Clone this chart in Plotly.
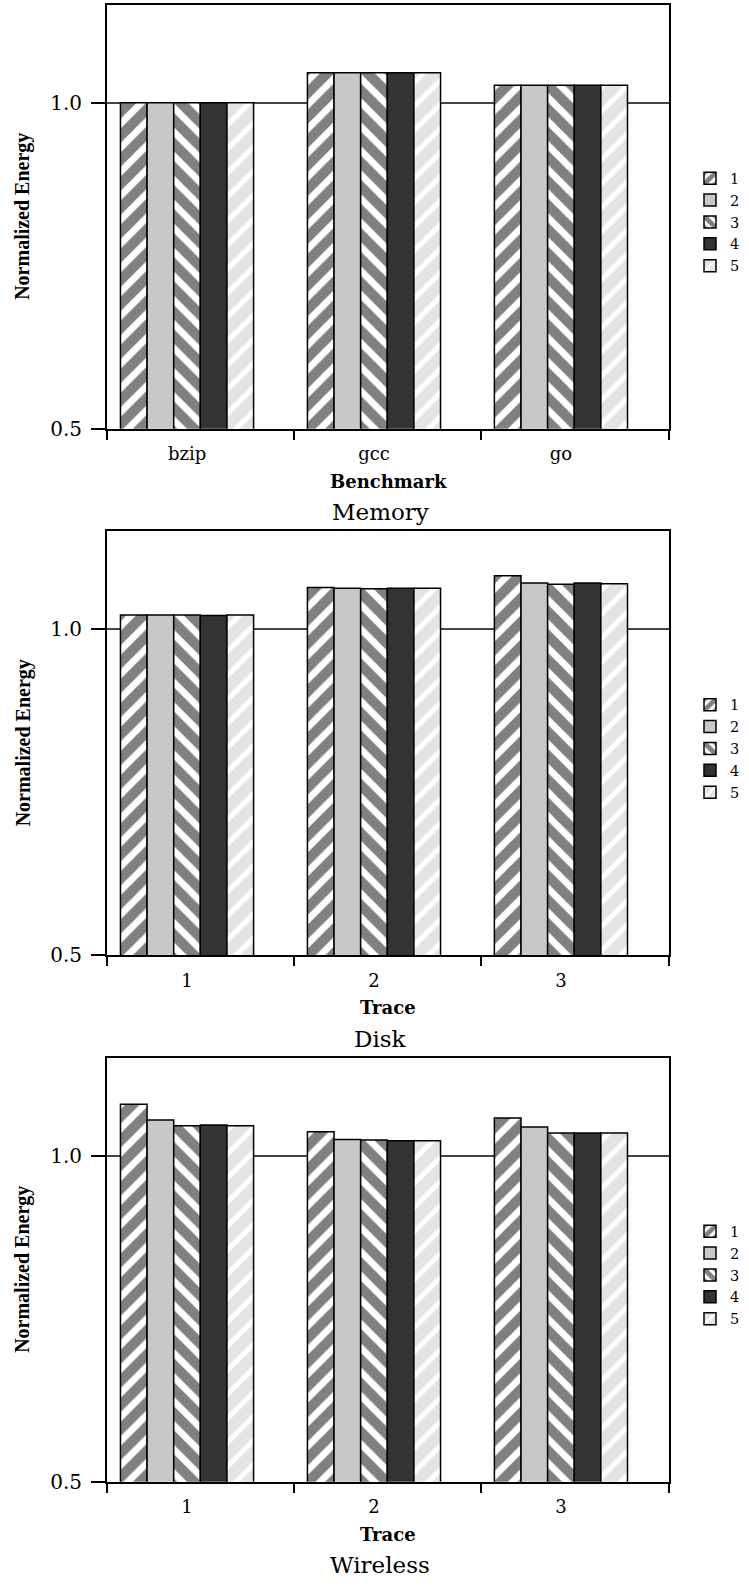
import plotly.graph_objects as go

# ---------------- data ----------------
series_names = ["1", "2", "3", "4", "5"]

memory_categories = ["bzip", "gcc", "go"]
memory_s1 = [1.000, 1.046, 1.027]
memory_s2 = [1.000, 1.046, 1.027]
memory_s3 = [1.000, 1.046, 1.027]
memory_s4 = [1.000, 1.046, 1.027]
memory_s5 = [1.000, 1.046, 1.027]

disk_categories = ["1", "2", "3"]
disk_s1 = [1.022, 1.064, 1.082]
disk_s2 = [1.022, 1.063, 1.071]
disk_s3 = [1.022, 1.062, 1.069]
disk_s4 = [1.021, 1.063, 1.071]
disk_s5 = [1.022, 1.063, 1.070]

wireless_categories = ["1", "2", "3"]
wireless_s1 = [1.079, 1.037, 1.058]
wireless_s2 = [1.055, 1.025, 1.044]
wireless_s3 = [1.046, 1.024, 1.035]
wireless_s4 = [1.047, 1.023, 1.035]
wireless_s5 = [1.046, 1.023, 1.035]

panel_titles = ["Memory", "Disk", "Wireless"]
x_titles = ["Benchmark", "Trace", "Trace"]
y_title = "Normalized Energy"
y_tickvals = [0.5, 1.0]
y_ticktext = ["0.5", "1.0"]

panels = [
    (memory_categories, [memory_s1, memory_s2, memory_s3, memory_s4, memory_s5]),
    (disk_categories, [disk_s1, disk_s2, disk_s3, disk_s4, disk_s5]),
    (wireless_categories, [wireless_s1, wireless_s2, wireless_s3, wireless_s4, wireless_s5]),
]

# ---------------- styles ----------------
W, H = 749, 1594
SERIF = "DejaVu Serif"
styles = [
    dict(color="white", pattern=dict(shape="/", fgcolor="#808080", bgcolor="white",
                                     fgopacity=1, size=17, solidity=0.6)),
    dict(color="#c8c8c8"),
    dict(color="white", pattern=dict(shape="\\", fgcolor="#808080", bgcolor="white",
                                     fgopacity=1, size=17, solidity=0.6)),
    dict(color="#333333"),
    dict(color="#e4e4e4", pattern=dict(shape="/", fgcolor="white", bgcolor="#e4e4e4",
                                       fgopacity=1, size=17, solidity=0.3)),
]

# pixel geometry of each panel
x_left, x_right = 107, 669
panel_tops = [5, 535.5, 1066]
panel_h = 427
x_lo, x_hi = -0.428, 2.578
y_lo, y_hi = 0.5, 1.15

fig = go.Figure()
layout = dict(
    width=W, height=H, margin=dict(l=0, r=0, t=0, b=0),
    paper_bgcolor="white", plot_bgcolor="white",
    barmode="group", bargap=0.288, bargroupgap=0,
    showlegend=True,
)
annotations = []

for p, (cats, series) in enumerate(panels):
    n = p + 1
    xa = "x" if n == 1 else f"x{n}"
    ya = "y" if n == 1 else f"y{n}"
    xt = f"x{n + 3}"
    legend_name = "legend" if n == 1 else f"legend{n}"
    top = panel_tops[p]
    bot = top + panel_h
    ydom = [1 - bot / H, 1 - top / H]
    xdom = [x_left / W, x_right / W]
    xpos = list(range(len(cats)))

    for s, (name, vals) in enumerate(zip(series_names, series)):
        fig.add_trace(go.Bar(
            x=xpos, y=vals, name=name, xaxis=xa, yaxis=ya,
            marker=dict(line=dict(color="black", width=1.5), **styles[s]),
            legend=legend_name, showlegend=True,
        ))
    # empty trace to activate the tick-only overlay axis
    fig.add_trace(go.Scatter(x=[], y=[], xaxis=xt, yaxis=ya, showlegend=False, hoverinfo="skip"))

    axkey = "xaxis" if n == 1 else f"xaxis{n}"
    aykey = "yaxis" if n == 1 else f"yaxis{n}"
    layout[axkey] = dict(
        domain=xdom, anchor=ya, range=[x_lo, x_hi],
        tickvals=xpos, ticktext=cats, ticks="", showgrid=False, zeroline=False,
        showline=True, mirror=True, linecolor="black", linewidth=2,
        ticklabelstandoff=8,
        tickfont=dict(family=SERIF, size=18, color="black"),
    )
    tick_positions = [x_lo] + [c - 0.428 + 1 for c in xpos[:-1]] + [x_hi]
    layout[f"xaxis{n + 3}"] = dict(
        domain=xdom, anchor=ya, overlaying=xa, range=[x_lo, x_hi],
        tickvals=tick_positions, showticklabels=False, ticks="outside",
        ticklen=10, tickwidth=2, tickcolor="black",
        showgrid=False, zeroline=False, showline=False,
    )
    layout[aykey] = dict(
        domain=ydom, anchor=xa, range=[y_lo, y_hi],
        tickvals=y_tickvals, ticktext=y_ticktext, ticks="outside", ticklen=14,
        tickwidth=2, tickcolor="black",
        showgrid=True, gridcolor="#444444", gridwidth=2, zeroline=False,
        showline=True, mirror=True, linecolor="black", linewidth=2,
        ticklabelstandoff=5,
        tickfont=dict(family=SERIF, size=20, color="black"),
    )
    leg_center = top + 219
    layout[legend_name] = dict(
        x=690 / W, xanchor="left", y=1 - leg_center / H, yanchor="middle",
        font=dict(family=SERIF, size=14.5, color="black"),
        bgcolor="rgba(0,0,0,0)", tracegroupgap=0, itemclick=False,
    )
    annotations.append(dict(
        text=f"<b>{x_titles[p]}</b>", x=(x_left + x_right) / 2 / W, y=1 - (bot + 53) / H,
        xref="paper", yref="paper", xanchor="center", yanchor="middle", showarrow=False,
        font=dict(family=SERIF, size=18, color="black"),
    ))
    annotations.append(dict(
        text=panel_titles[p], x=380 / W, y=1 - (bot + 84) / H,
        xref="paper", yref="paper", xanchor="center", yanchor="middle", showarrow=False,
        font=dict(family=SERIF, size=23, color="black"),
    ))
    annotations.append(dict(
        text=f"<b>{y_title}</b>", x=23 / W, y=1 - (top + panel_h / 2) / H, textangle=-90,
        xref="paper", yref="paper", xanchor="center", yanchor="middle", showarrow=False,
        font=dict(family="Liberation Serif", size=20, color="black"),
    ))

layout["annotations"] = annotations
fig.update_layout(**layout)
fig.write_html("out.html")
